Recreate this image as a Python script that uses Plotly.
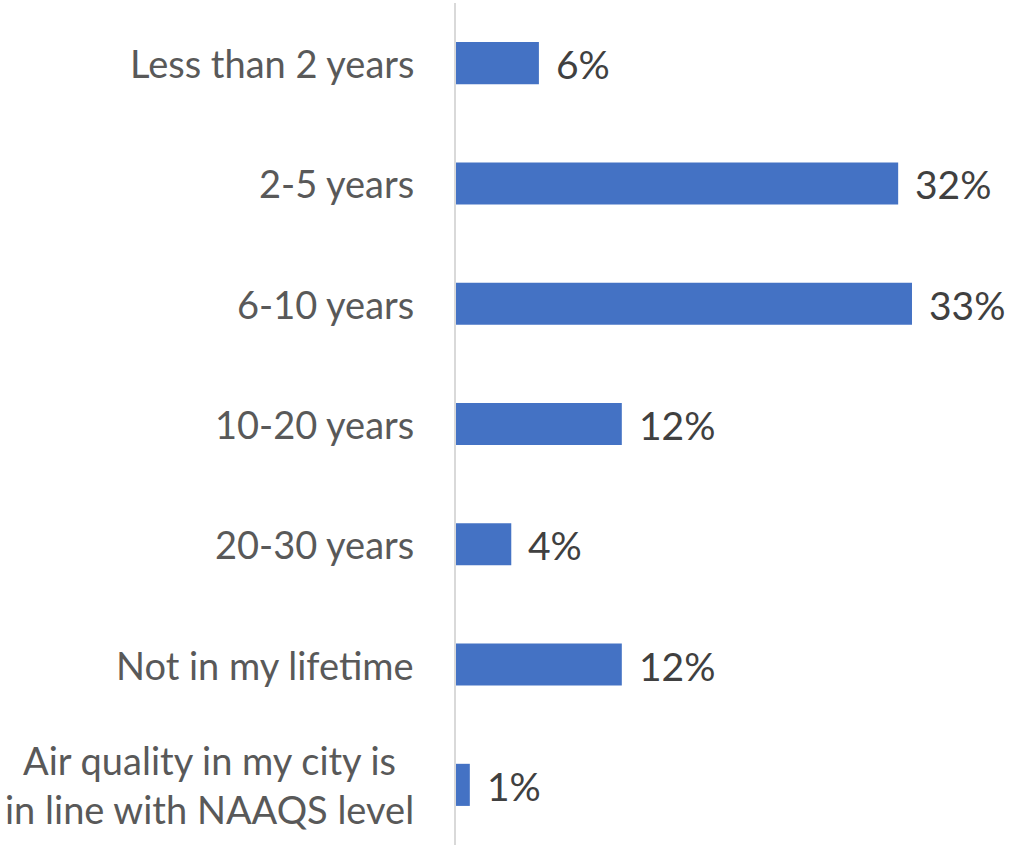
import plotly.graph_objects as go

categories = [
    "Less than 2 years",
    "2-5 years",
    "6-10 years",
    "10-20 years",
    "20-30 years",
    "Not in my lifetime",
    "Air quality in my city is<br>in line with NAAQS level",
]
shares = [0.06, 0.32, 0.33, 0.12, 0.04, 0.12, 0.01]

FONT = "Lato, Calibri, Carlito, sans-serif"
SIZE = 38

fig = go.Figure(
    go.Bar(
        x=shares,
        y=categories,
        orientation="h",
        marker=dict(color="#4472C4", line=dict(width=0)),
        cliponaxis=False,
        hoverinfo="skip",
    )
)

# value labels just past each bar end
for cat, v in zip(categories, shares):
    fig.add_annotation(
        x=v, y=cat, xref="x", yref="y",
        text=f"{v:.0%}", showarrow=False,
        xanchor="left", xshift=15, yshift=-1,
        font=dict(family=FONT, size=SIZE + 1, color="#404040"),
    )

# category labels, centred line-wise for multi-line entries
for cat in categories:
    fig.add_annotation(
        x=0, y=cat, xref="x", yref="y",
        text=cat, showarrow=False,
        xanchor="right", xshift=-40, align="center",
        font=dict(family=FONT, size=SIZE, color="#595959"),
    )

fig.update_layout(
    width=1017,
    height=845,
    margin=dict(l=456, r=0, t=3, b=0),
    paper_bgcolor="white",
    plot_bgcolor="white",
    bargap=0.65,
    showlegend=False,
    font=dict(family=FONT),
)
fig.update_xaxes(range=[0, 0.406], visible=False)
fig.update_yaxes(
    autorange="reversed",
    showline=True,
    linecolor="#D9D9D9",
    linewidth=2,
    showgrid=False,
    ticks="",
    showticklabels=False,
)

fig.write_html("out.html")
